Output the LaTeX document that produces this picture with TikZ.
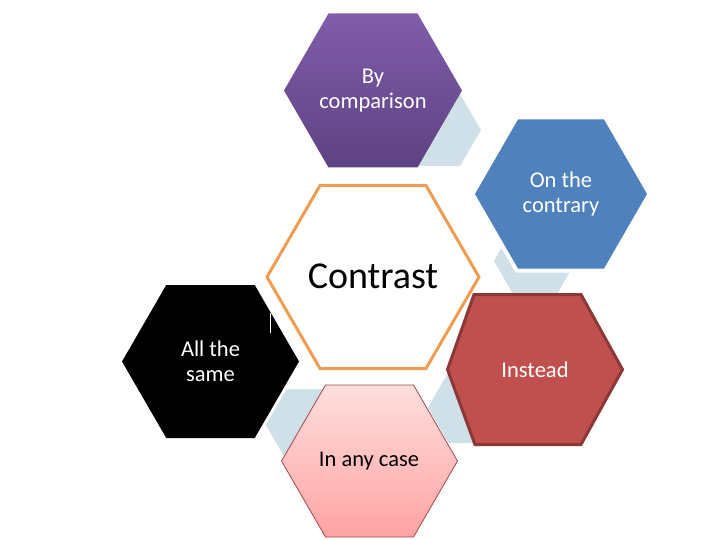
\documentclass[tikz,border=0pt]{standalone}
\usepackage{fontspec}
\setmainfont{Carlito}
\definecolor{lightbluec}{RGB}{207,224,232}
\definecolor{purpletop}{RGB}{128,92,170}
\definecolor{purplebot}{RGB}{94,66,130}
\definecolor{bluefill}{RGB}{79,129,189}
\definecolor{redfill}{RGB}{192,80,77}
\definecolor{redline}{RGB}{140,56,54}
\definecolor{pinktop}{RGB}{255,222,222}
\definecolor{pinkbot}{RGB}{255,163,163}
\definecolor{pinkline}{RGB}{160,72,70}
\definecolor{orangeline}{RGB}{238,156,82}
\newcommand\hexagonpath[4]{({#1-#3},{#2}) -- ({#1-#3/2},{#2-#4}) -- ({#1+#3/2},{#2-#4}) -- ({#1+#3},{#2}) -- ({#1+#3/2},{#2+#4}) -- ({#1-#3/2},{#2+#4}) -- cycle}
\tikzset{
  smalltext/.style={align=center, font=\fontsize{22.5}{25}\selectfont, inner sep=0pt},
  connhex/.style={fill=lightbluec},
}
\begin{document}
\begin{tikzpicture}[x=1pt,y=-1pt]
\fill[white] (0,0) rectangle (720,540);
\useasboundingbox (0,0) rectangle (720,540);
% light blue connector hexagons
\fill[connhex] \hexagonpath{439}{130}{42}{36};
\fill[connhex] \hexagonpath{535}{261}{41}{35.5};
\fill[connhex] \hexagonpath{469}{407.5}{41}{35.5};
\fill[connhex] \hexagonpath{305}{423.5}{40}{34.5};
% purple
\shade[top color=purpletop, bottom color=purplebot] \hexagonpath{373}{90.5}{89}{77};
% blue with white outline
\draw[white, line width=8pt] \hexagonpath{561}{194}{86}{74.5};
\fill[bluefill] \hexagonpath{561}{194}{86}{74.5};
% red
\draw[fill=redfill, draw=redline, line width=3pt, line join=miter]
  (447.5,369.5) -- (474,294.5) -- (581,294.5) -- (622.5,369.5) -- (581,444.5) -- (475,444.5) -- cycle;
% pink
\shade[top color=pinktop, bottom color=pinkbot] \hexagonpath{369.5}{461}{88}{76};
\draw[pinkline, line width=0.8pt] \hexagonpath{369.5}{461}{88}{76};
% black with white outline
\draw[white, line width=6pt] \hexagonpath{210.5}{361.5}{88.5}{76.5};
\fill[black] \hexagonpath{210.5}{361.5}{88.5}{76.5};
\draw[white, line width=1pt] (270,313) -- (270,333);
% center
\draw[fill=white, draw=orangeline, line width=3pt] \hexagonpath{373}{277}{106}{91.5};
% labels
\node[smalltext, text=white] (bycomp) at (373,91) {By\\comparison};
\node[smalltext, text=white] (contrary) at (561,194) {On the\\contrary};
\node[smalltext, text=white] (instead) at (535,369.5) {Instead};
\node[smalltext, text=black] (anycase) at (369,461) {In any case};
\node[smalltext, text=white] (allsame) at (210.5,361.5) {All the\\same};
\node[align=center, inner sep=0pt, font=\fontsize{38}{40}\selectfont] (contrast) at (373,276) {Contrast};
\end{tikzpicture}
\end{document}
